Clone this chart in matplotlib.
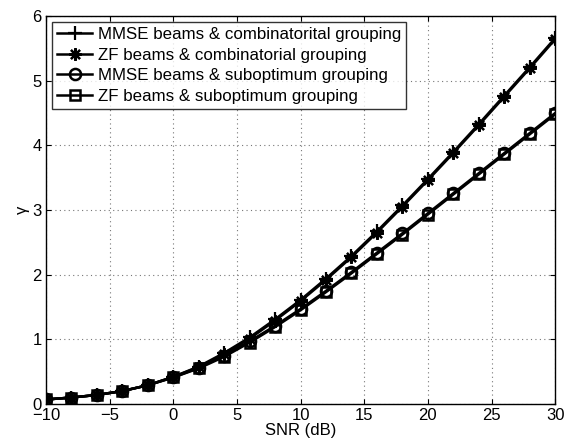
import matplotlib
matplotlib.use("Agg")
import matplotlib.pyplot as plt

plt.rcParams["font.family"] = ["Liberation Sans", "DejaVu Sans"]

snr = [-10, -8, -6, -4, -2, 0, 2, 4, 6, 8, 10, 12, 14, 16, 18, 20, 22, 24, 26, 28, 30]

mmse_comb = [0.07, 0.10, 0.14, 0.20, 0.29, 0.42, 0.58, 0.79, 1.03, 1.31, 1.61, 1.94, 2.29, 2.67, 3.07, 3.48, 3.90, 4.33, 4.77, 5.21, 5.66]
zf_comb = [0.07, 0.10, 0.14, 0.20, 0.29, 0.42, 0.57, 0.77, 1.01, 1.29, 1.59, 1.92, 2.27, 2.65, 3.05, 3.46, 3.88, 4.31, 4.75, 5.19, 5.64]
mmse_sub = [0.07, 0.10, 0.14, 0.20, 0.29, 0.41, 0.56, 0.75, 0.97, 1.21, 1.47, 1.75, 2.04, 2.34, 2.64, 2.95, 3.26, 3.57, 3.88, 4.19, 4.50]
zf_sub = [0.07, 0.10, 0.14, 0.20, 0.29, 0.41, 0.55, 0.73, 0.95, 1.19, 1.45, 1.73, 2.02, 2.32, 2.62, 2.93, 3.24, 3.55, 3.86, 4.17, 4.48]

labels = ["MMSE beams & combinatorital grouping",
          "ZF beams & combinatorial grouping",
          "MMSE beams & suboptimum grouping",
          "ZF beams & suboptimum grouping"]

fig = plt.figure(figsize=(5.73, 4.43), dpi=100)
ax = fig.add_axes([0.080, 0.088, 0.889, 0.876])

ax.plot(snr, mmse_comb, "k-", marker="+", markersize=10, mew=1.6, lw=1.8, label=labels[0])
ax.plot(snr, zf_comb, "k-", marker=(8, 2, 0), markersize=9, mew=1.6, lw=1.8, label=labels[1])
ax.plot(snr, mmse_sub, "k-", marker="o", markersize=8, mfc="none", mew=1.8, lw=1.8, label=labels[2])
ax.plot(snr, zf_sub, "k-", marker="s", markersize=7, mfc="none", mew=1.8, lw=1.8, label=labels[3])

ax.set_xlim(-10, 30)
ax.set_ylim(0, 6)
ax.set_xticks([-10, -5, 0, 5, 10, 15, 20, 25, 30])
ax.set_xticklabels(["\u221210", "\u22125", "0", "5", "10", "15", "20", "25", "30"])
ax.set_yticks([0, 1, 2, 3, 4, 5, 6])
ax.tick_params(direction="in", top=True, right=True, labelsize=12, pad=3)
ax.grid(True, linestyle=(0, (1, 3)), color="#777777", lw=0.8)
for s in ax.spines.values():
    s.set_linewidth(1.0)

ax.set_xlabel("SNR (dB)", fontsize=12, labelpad=0)
ax.set_ylabel("\u03b3", fontsize=12, labelpad=2)

leg = ax.legend(loc="upper left", fontsize=12.2, frameon=True, fancybox=False,
                edgecolor="black", borderaxespad=0.35, handlelength=2.1,
                handletextpad=0.3, labelspacing=0.33, borderpad=0.3)
leg.get_frame().set_linewidth(1.0)

fig.savefig("out.png", dpi=100)
